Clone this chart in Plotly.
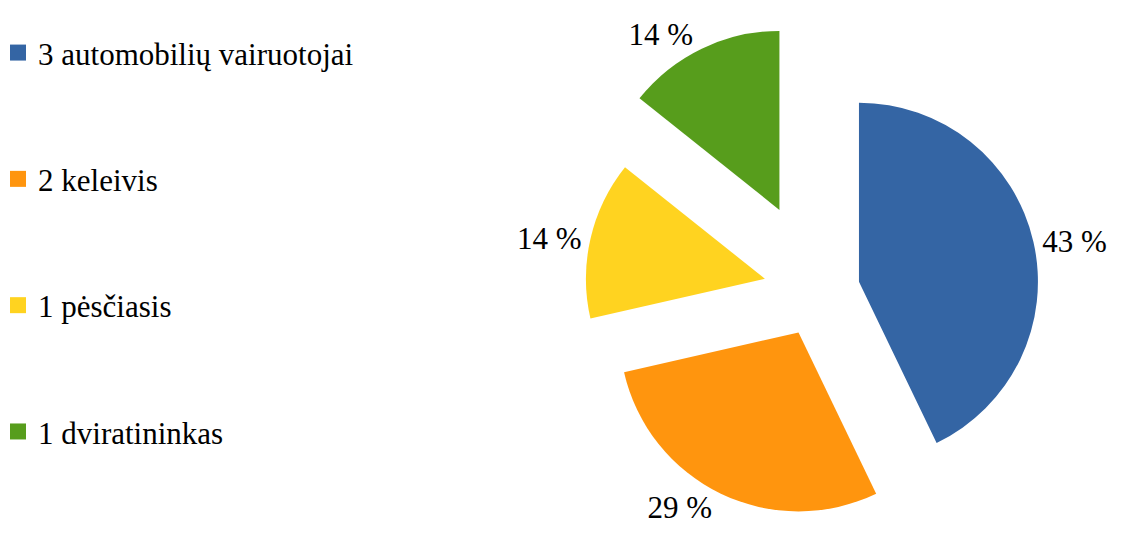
import plotly.graph_objects as go

# Road accident participants
categories = ["automobilių vairuotojai", "keleivis", "pėsčiasis", "dviratininkas"]
counts = [3, 2, 1, 1]

colors = ["#3465A4", "#FF950E", "#FFD320", "#579D1C"]
pulls = [0.232, 0.257, 0.307, 0.503]
font_family = "Liberation Serif, Times New Roman, serif"

legend_names = [f"{n} {c}" for n, c in zip(counts, categories)]
total = sum(counts)
pct_text = [f"{round(n / total * 100)} %" for n in counts]

fig = go.Figure()
fig.add_trace(
    go.Pie(
        labels=legend_names,
        values=counts,
        text=pct_text,
        textinfo="text",
        textposition="outside",
        sort=False,
        direction="clockwise",
        rotation=0,
        pull=pulls,
        marker=dict(colors=colors, line=dict(width=0)),
        textfont=dict(family=font_family, size=31, color="black"),
        showlegend=False,
        hoverinfo="label+percent",
        domain=dict(x=[0.473, 0.973], y=[0.0143, 0.975]),
    )
)

# legend entries with bigger squares
for i, name in enumerate(legend_names):
    fig.add_trace(
        go.Scatter(
            x=[None],
            y=[None],
            mode="markers",
            name=name,
            legendgroup=f"g{i}",
            marker=dict(symbol="square", size=16, color=colors[i]),
            hoverinfo="skip",
        )
    )

fig.update_layout(
    width=1121,
    height=560,
    margin=dict(l=0, r=0, t=0, b=0, autoexpand=False),
    paper_bgcolor="white",
    plot_bgcolor="white",
    xaxis=dict(visible=False),
    yaxis=dict(visible=False),
    legend=dict(
        x=-0.0089,
        y=0.968,
        xanchor="left",
        yanchor="top",
        font=dict(family=font_family, size=31, color="black"),
        tracegroupgap=83,
        itemsizing="trace",
        bgcolor="rgba(0,0,0,0)",
    ),
)

fig.write_html("out.html")
